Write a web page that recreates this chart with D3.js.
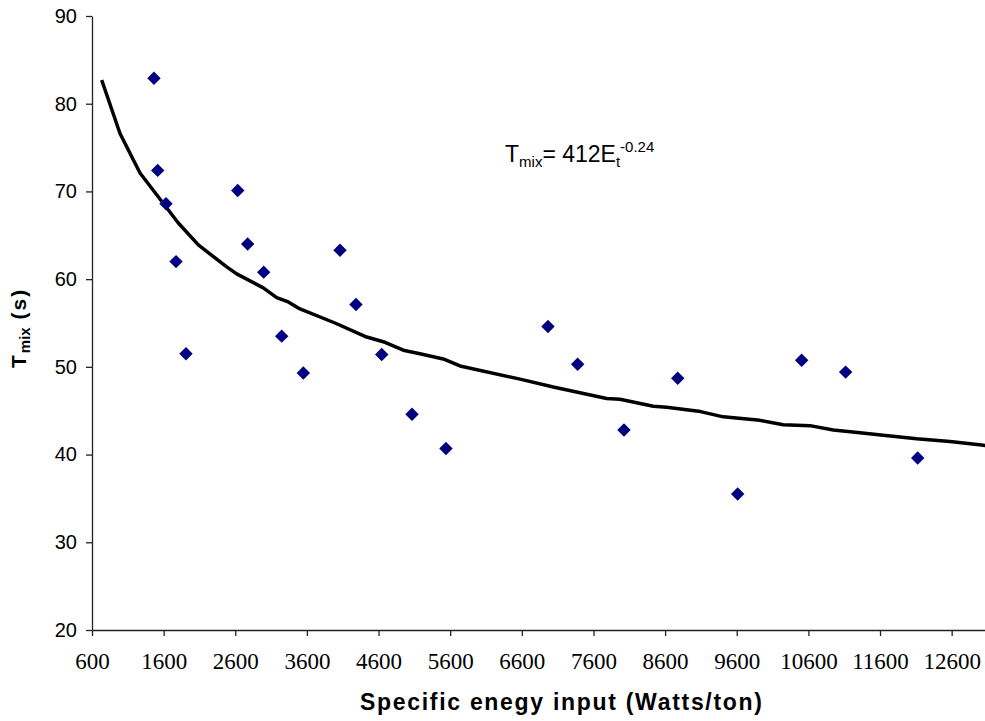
<!DOCTYPE html>
<html>
<head>
<meta charset="utf-8">
<script src="https://cdn.jsdelivr.net/npm/d3@7/dist/d3.min.js"></script>
<style>
  html, body { margin: 0; padding: 0; background: #fff; }
  svg { display: block; }
</style>
</head>
<body>
<svg id="chart" width="985" height="721"></svg>
<script>
// Measured data points (specific energy input, mixing time)
const energy = [1465, 1517, 1633, 1773, 1912, 2634, 2773, 2997, 3248, 3550,
                4062, 4285, 4644, 5067, 5541, 6965, 7379, 8026, 8776, 9613,
                10506, 11120, 12126];
const tmix = [82.9, 72.4, 68.6, 62.0, 51.5, 70.1, 64.0, 60.8, 53.5, 49.3,
              63.3, 57.1, 51.4, 44.6, 40.7, 54.6, 50.3, 42.8, 48.7, 35.5,
              50.75, 49.4, 39.6];

// Trend line
const fitE = [735, 991, 1270, 1805, 2084, 2480, 2620, 2991, 3178, 3340, 3503,
              3992, 4434, 4690, 4945, 5178, 5503, 5737, 6574, 7039, 7784, 7970,
              8435, 8622, 9095, 9412, 9924, 10249, 10622, 10947, 11320, 11645,
              12111, 12576, 13018, 13100];
const fitT = [82.7, 76.6, 72.1, 66.4, 63.9, 61.4, 60.6, 59.0, 57.9, 57.4, 56.6,
              55.0, 53.4, 52.8, 51.9, 51.5, 50.9, 50.1, 48.6, 47.7, 46.4, 46.3,
              45.5, 45.4, 44.9, 44.3, 43.9, 43.4, 43.3, 42.8, 42.5, 42.2,
              41.8, 41.5, 41.1, 41.0];

const xTicks = [600, 1600, 2600, 3600, 4600, 5600, 6600, 7600, 8600, 9600, 10600, 11600, 12600];
const yTicks = [20, 30, 40, 50, 60, 70, 80, 90];

const svg = d3.select("#chart");
const x = d3.scaleLinear().domain([600, 13600]).range([92, 1023.3]);
const y = d3.scaleLinear().domain([20, 90]).range([630, 16]);

// Axes
const xAxis = d3.axisBottom(x).tickValues(xTicks).tickFormat(d3.format("d"))
  .tickSize(6).tickSizeOuter(0);
const gx = svg.append("g").attr("transform", "translate(0,630)").call(xAxis);
gx.attr("font-family", null).attr("font-size", null);
gx.select(".domain").attr("stroke", "#222").attr("stroke-width", 1.3);
gx.selectAll(".tick line").attr("stroke", "#222").attr("stroke-width", 1.3);
gx.selectAll(".tick text")
  .attr("y", 39).attr("dy", 0)
  .style("font-family", "\"Liberation Serif\", \"Times New Roman\", Times, serif", "important")
  .style("font-size", "23px", "important")
  .attr("fill", "#000");

const yAxis = d3.axisLeft(y).tickValues(yTicks).tickSize(6).tickSizeOuter(0).tickPadding(9);
const gy = svg.append("g").attr("transform", "translate(92,0)").call(yAxis);
gy.select(".domain").attr("stroke", "#222").attr("stroke-width", 1.3);
gy.selectAll(".tick line").attr("stroke", "#222").attr("stroke-width", 1.3);
gy.selectAll(".tick text")
  .style("font-family", "'Liberation Sans', Arial, sans-serif")
  .style("font-size", "20px").attr("fill", "#000");

// Trend line
const fit = fitE.map((e, i) => [e, fitT[i]]);
svg.append("path")
  .datum(fit)
  .attr("fill", "none")
  .attr("stroke", "#000")
  .attr("stroke-width", 3.5)
  .attr("stroke-linejoin", "round")
  .attr("d", d3.line().x(d => x(d[0])).y(d => y(d[1])));

// Data points (diamonds)
const pts = energy.map((e, i) => [e, tmix[i]]);
svg.append("g").selectAll("path")
  .data(pts).enter().append("path")
  .attr("transform", d => `translate(${x(d[0])},${y(d[1])})`)
  .attr("d", d3.symbol().type(d3.symbolDiamond2).size(115))
  .attr("fill", "#000080");

// Equation
const eq = svg.append("text")
  .attr("x", 505).attr("y", 162)
  .style("font-family", "'Liberation Sans', Arial, sans-serif")
  .style("font-size", "23px").attr("fill", "#000");
eq.append("tspan").text("T");
eq.append("tspan").style("font-size", "15px").attr("dy", 5).text("mix");
eq.append("tspan").attr("dy", -5).text("= 412E");
eq.append("tspan").style("font-size", "15px").attr("dy", 5).text("t");
eq.append("tspan").style("font-size", "15px").attr("dy", -15).text("-0.24");

// Axis titles
svg.append("text")
  .attr("x", 360).attr("y", 710)
  .attr("textLength", 402).attr("lengthAdjust", "spacing")
  .style("font-family", "'Liberation Sans', Arial, sans-serif")
  .style("font-weight", "bold").style("font-size", "23px").attr("fill", "#000")
  .text("Specific enegy input (Watts/ton)");

const yt = svg.append("text")
  .attr("transform", "translate(26,368) rotate(-90)")
  .style("font-family", "'Liberation Sans', Arial, sans-serif")
  .style("font-weight", "bold").style("font-size", "21px").style("letter-spacing", "2px")
  .attr("fill", "#000");
yt.append("tspan").text("T");
yt.append("tspan").style("font-size", "15px").style("letter-spacing", "0px").attr("dy", 4).text("mix");
yt.append("tspan").attr("dy", -4).text(" (s)");
</script>
</body>
</html>
